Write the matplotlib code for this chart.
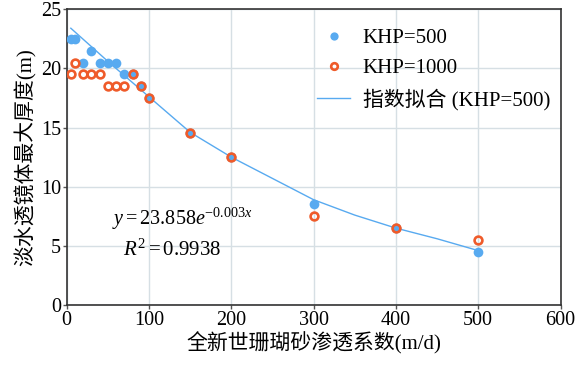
import numpy as np
import matplotlib
matplotlib.use("Agg")
import matplotlib.pyplot as plt

plt.rcParams["font.family"] = ["Liberation Serif", "Noto Sans CJK SC"]
plt.rcParams["mathtext.fontset"] = "custom"
plt.rcParams["mathtext.rm"] = "Liberation Serif"
plt.rcParams["mathtext.it"] = "Liberation Serif:italic"

# data
k_500 = [5, 10, 20, 30, 40, 50, 60, 70, 80, 90, 100, 150, 200, 300, 400, 500]
h_500 = [22.5, 22.5, 20.5, 21.5, 20.5, 20.5, 20.5, 19.5, 19.5, 18.5, 17.5,
         14.5, 12.5, 8.5, 6.5, 4.5]
k_1000 = [5, 10, 20, 30, 40, 50, 60, 70, 80, 90, 100, 150, 200, 300, 400, 500]
h_1000 = [19.5, 20.5, 19.5, 19.5, 19.5, 18.5, 18.5, 18.5, 19.5, 18.5, 17.5,
          14.5, 12.5, 7.5, 6.5, 5.5]
# fitted curve as drawn
k_fit = [5, 50, 100, 150, 200, 250, 300, 350, 400, 450, 500]
h_fit = [23.4, 20.6, 17.6, 14.6, 12.5, 10.7, 8.9, 7.6, 6.5, 5.6, 4.6]

blue = "#58aaf0"
orange = "#ef5b2a"

fig = plt.figure(figsize=(5.82, 3.66), dpi=100)
ax = fig.add_axes([0.1146, 0.1667, 0.9631 - 0.1146, 0.9746 - 0.1667])

ax.plot(k_fit, h_fit, color=blue, lw=1.0, zorder=3, label="指数拟合 (KHP=500)")
ax.plot(k_500, h_500, "o", color=blue, ms=7, mew=0, zorder=4, label="KHP=500")
ax.plot(k_1000, h_1000, "o", mfc="none", mec=orange, ms=5.6, mew=1.9,
        zorder=5, label="KHP=1000")

ax.set_xlim(0, 600)
ax.set_ylim(0, 25)
ax.set_xticks(range(0, 601, 100))
ax.set_yticks(range(0, 26, 5))
ax.grid(True, color="#d6dfe4", lw=1.0)
ax.set_axisbelow(True)
for s in ax.spines.values():
    s.set_color("#333333")
    s.set_linewidth(1.2)
ax.tick_params(labelsize=14.5, length=3, width=1, color="#555555", pad=1)

ax.set_xlabel("全新世珊瑚砂渗透系数(m/d)", fontsize=15, labelpad=2)
ax.set_ylabel("淡水透镜体最大厚度(m)", fontsize=15, labelpad=3)

ax.text(55, 7.3, r"$y = 23.858e^{-0.003x}$", fontsize=14.5, va="center")
ax.text(68, 4.6, r"$R^2 = 0.9938$", fontsize=15, va="center")

h, l = ax.get_legend_handles_labels()
order = [1, 2, 0]
ax.legend([h[i] for i in order], [l[i] for i in order], loc="upper right",
          frameon=False, fontsize=15, handlelength=1.6, handletextpad=0.6,
          labelspacing=0.5, borderaxespad=0.1, markerscale=0.85,
          bbox_to_anchor=(1.0, 0.97))

fig.savefig("out.png", dpi=100)
